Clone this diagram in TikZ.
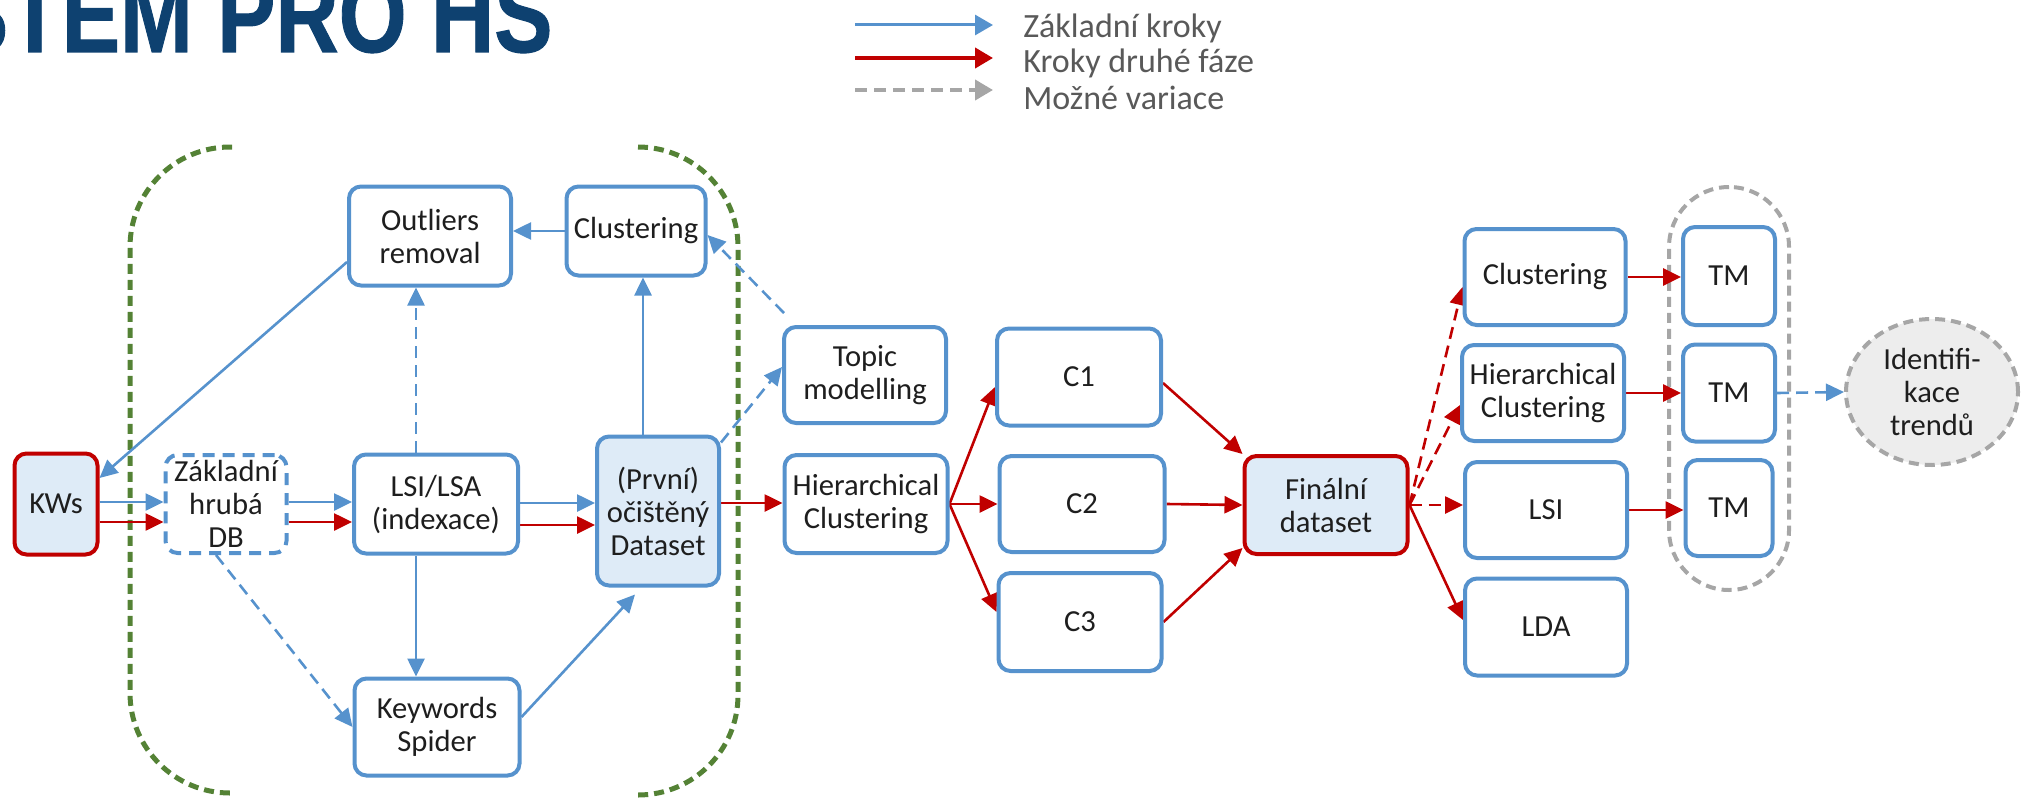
\documentclass[tikz,border=0pt]{standalone}
\usepackage{fontspec}
\setmainfont{Carlito}
\newfontfamily\titlefont[FakeBold=1]{Liberation Sans}
\usetikzlibrary{arrows.meta,shapes.geometric,calc,backgrounds}
\definecolor{cblue}{RGB}{86,146,205}
\definecolor{cred}{RGB}{192,0,0}
\definecolor{cfill}{RGB}{222,235,247}
\definecolor{cgreen}{RGB}{84,130,53}
\definecolor{cgray}{RGB}{166,166,166}
\definecolor{ctitle}{RGB}{14,65,112}
\definecolor{ctext}{RGB}{89,89,89}
\definecolor{ccirc}{RGB}{237,237,237}
\definecolor{cink}{RGB}{30,30,30}
\begin{document}
\begin{tikzpicture}[x=0.5pt,y=-0.5pt,
  box/.style={draw=cblue, line width=2pt, rounded corners=6pt, fill=white, align=center,
    font=\fontsize{15.3}{16.5}\selectfont, text=cink, inner sep=1pt},
  rbox/.style={box, font=\fontsize{15.3}{17}\selectfont},
  redbox/.style={box, draw=cred, fill=cfill},
  tip/.style={-{Triangle[length=9pt,width=8.5pt]}},
  be/.style={draw=cblue, line width=1.3pt, tip},
  re/.style={draw=cred, line width=1.3pt, tip},
  dbe/.style={be, dash pattern=on 6pt off 3.5pt},
  dre/.style={re, dash pattern=on 6pt off 3.5pt},
  greenbr/.style={draw=cgreen, line width=2.5pt, dash pattern=on 5pt off 3pt, rounded corners=50pt},
  legtext/.style={font=\fontsize{17}{18}\selectfont, text=ctext, anchor=base west, inner sep=0pt}
]
\useasboundingbox (0,0) rectangle (2021,797);

% title (cut by the page edge, as in the source)
\node[anchor=base east, inner sep=0pt, text=ctitle,
  font=\titlefont\bfseries\fontsize{54}{54}\selectfont] (title) at (553,52)
  {\scalebox{0.81}[1]{SYSTÉM PRO HS}};

% legend
\coordinate (la1) at (855,25); \coordinate (lb1) at (993,25);
\coordinate (la2) at (855,58); \coordinate (lb2) at (993,58);
\coordinate (la3) at (855,90); \coordinate (lb3) at (993,90);
\draw[draw=cblue, line width=1.5pt, -{Triangle[length=9pt,width=10pt]}] (la1) -- (lb1);
\draw[draw=cred, line width=2pt, -{Triangle[length=9pt,width=10pt]}] (la2) -- (lb2);
\draw[draw=cgray, line width=2pt, dash pattern=on 6pt off 3.5pt, -{Triangle[length=9pt,width=10pt]}] (la3) -- (lb3);
\node[legtext] (lt1) at (1023,38) {Základní kroky};
\node[legtext] (lt2) at (1023,73) {Kroky druhé fáze};
\node[legtext] (lt3) at (1023,110) {Možné variace};

% nodes
\node[redbox, minimum width=41.5pt, minimum height=50.5pt] (kws) at (56,504) {KWs};
\node[box, dash pattern=on 6pt off 4pt, inner sep=0pt, minimum width=60.5pt, minimum height=49pt] (db) at (226,504) {Základní\\hrubá\\DB};
\node[box, minimum width=82pt, minimum height=49.5pt] (lsi) at (436,504) {LSI/LSA\\(indexace)};
\node[box, minimum width=81pt, minimum height=49.5pt] (out) at (430,236) {Outliers\\removal};
\node[box, minimum width=69.5pt, minimum height=44.5pt] (clt) at (636,231) {Clustering};
\node[box, fill=cfill, minimum width=61pt, minimum height=74.5pt] (ds) at (658,511) {(První)\\očištěný\\Dataset};
\node[box, minimum width=82.5pt, minimum height=48.5pt] (sp) at (437,727) {Keywords\\Spider};
\node[box, minimum width=81pt, minimum height=48pt] (topic) at (865,375) {Topic\\modelling};
\node[box, minimum width=81.5pt, minimum height=49pt] (hier) at (866,504) {Hierarchical\\Clustering};
\node[box, minimum width=82pt, minimum height=48.5pt] (c1) at (1079,377) {C1};
\node[box, minimum width=82.5pt, minimum height=48pt] (c2) at (1082,504) {C2};
\node[box, minimum width=81.5pt, minimum height=49pt] (c3) at (1080,622) {C3};
\node[redbox, minimum width=81.5pt, minimum height=49pt] (final) at (1326,505) {Finální\\dataset};
\node[rbox, minimum width=80.5pt, minimum height=48pt] (rclust) at (1545,277) {Clustering};
\node[rbox, minimum width=81pt, minimum height=48pt] (rhier) at (1543,393) {Hierarchical\\Clustering};
\node[rbox, minimum width=81pt, minimum height=48pt] (rlsi) at (1546,510) {LSI};
\node[rbox, minimum width=81pt, minimum height=48.5pt] (lda) at (1546,627) {LDA};
\node[rbox, minimum width=46pt, minimum height=49pt] (tm1) at (1729,276) {TM};
\node[rbox, minimum width=46pt, minimum height=48.5pt] (tm2) at (1729,393) {TM};
\node[rbox, minimum width=43.5pt, minimum height=48pt] (tm3) at (1729,508) {TM};
\node[ellipse, draw=cgray, line width=2pt, dash pattern=on 5pt off 3pt, fill=ccirc,
  minimum width=86pt, minimum height=73pt, inner sep=0pt, align=center,
  font=\fontsize{15.3}{16.5}\selectfont, text=cink] (circ) at (1932,392) {Identifi-\\kace\\trendů};

\begin{scope}[on background layer]
  % green brackets
  \draw[greenbr] (232,147) -- (130,147) -- (130,793) -- (232,793);
  \draw[greenbr] (638,147) -- (738,147) -- (738,795) -- (638,795);
  % grey capsule
  \node[draw=cgray, line width=2pt, dash pattern=on 5pt off 3pt, rounded corners=30pt,
    minimum width=60pt, minimum height=201.5pt, inner sep=0pt] (grp) at (1729,388.5) {};

  \coordinate (yb) at (0,502); \coordinate (yr) at (0,522);
  \coordinate (yb2) at (0,503); \coordinate (yr2) at (0,525);
  \coordinate (xv) at (643,0); \coordinate (xo) at (416,0);

  \draw[be] (kws.east |- yb) -- (db.west |- yb);
  \draw[re] (kws.east |- yr) -- (db.west |- yr);
  \draw[be] (db.east |- yb) -- (lsi.west |- yb);
  \draw[re] (db.east |- yr) -- (lsi.west |- yr);
  \draw[be] (lsi.east |- yb2) -- (ds.west |- yb2);
  \draw[re] (lsi.east |- yr2) -- (ds.west |- yr2);
  \draw[re] (ds.east |- yb2) -- (hier.west |- yb2);
  \draw[be] (ds.north -| xv) -- (clt.south -| xv);
  \draw[be] (clt.west) -- (clt.west -| out.east);
  \draw[dbe] (lsi.north -| xo) -- (out.south -| xo);
  \draw[be] ([yshift=-13pt]out.west) -- ([yshift=13pt]kws.east);
  \draw[be] (lsi.south -| xo) -- (sp.north -| xo);
  \draw[dbe] ([xshift=-5pt]db.south) -- (sp.west);
  \draw[be] ([yshift=5pt]sp.east) -- ([xshift=-11.5pt,yshift=-3.5pt]ds.south);
  \draw[dbe] ([yshift=-4pt]ds.north east) -- ([yshift=4pt]topic.west);
  \draw[dbe] ([shift={(1pt,6pt)}]topic.north west) -- ([yshift=-2pt]clt.east);
  \draw[re] (hier.east) -- ([yshift=-5pt]c1.west);
  \draw[re] (hier.east) -- (c2.west);
  \draw[re] (hier.east) -- ([yshift=5pt]c3.west);
  \draw[re] ([yshift=-3pt]c1.east) -- (final.north west);
  \draw[re] (c2.east) -- (final.west);
  \draw[re] (c3.east) -- ([yshift=4pt]final.south west);
  \draw[dre] (final.east) -- ([yshift=-5pt]rclust.west);
  \draw[dre] (final.east) -- ([yshift=-6pt]rhier.west);
  \draw[dre] (final.east) -- (final.east -| rlsi.west);
  \draw[re] (final.east) -- ([yshift=3.5pt]lda.west);
  \draw[re] (rclust.east) -- (rclust.east -| tm1.west);
  \draw[re] (rhier.east) -- (rhier.east -| tm2.west);
  \draw[re] (rlsi.east) -- (rlsi.east -| tm3.west);
  \draw[dbe] (tm2.east) -- (circ.west);
\end{scope}
\end{tikzpicture}
\end{document}
